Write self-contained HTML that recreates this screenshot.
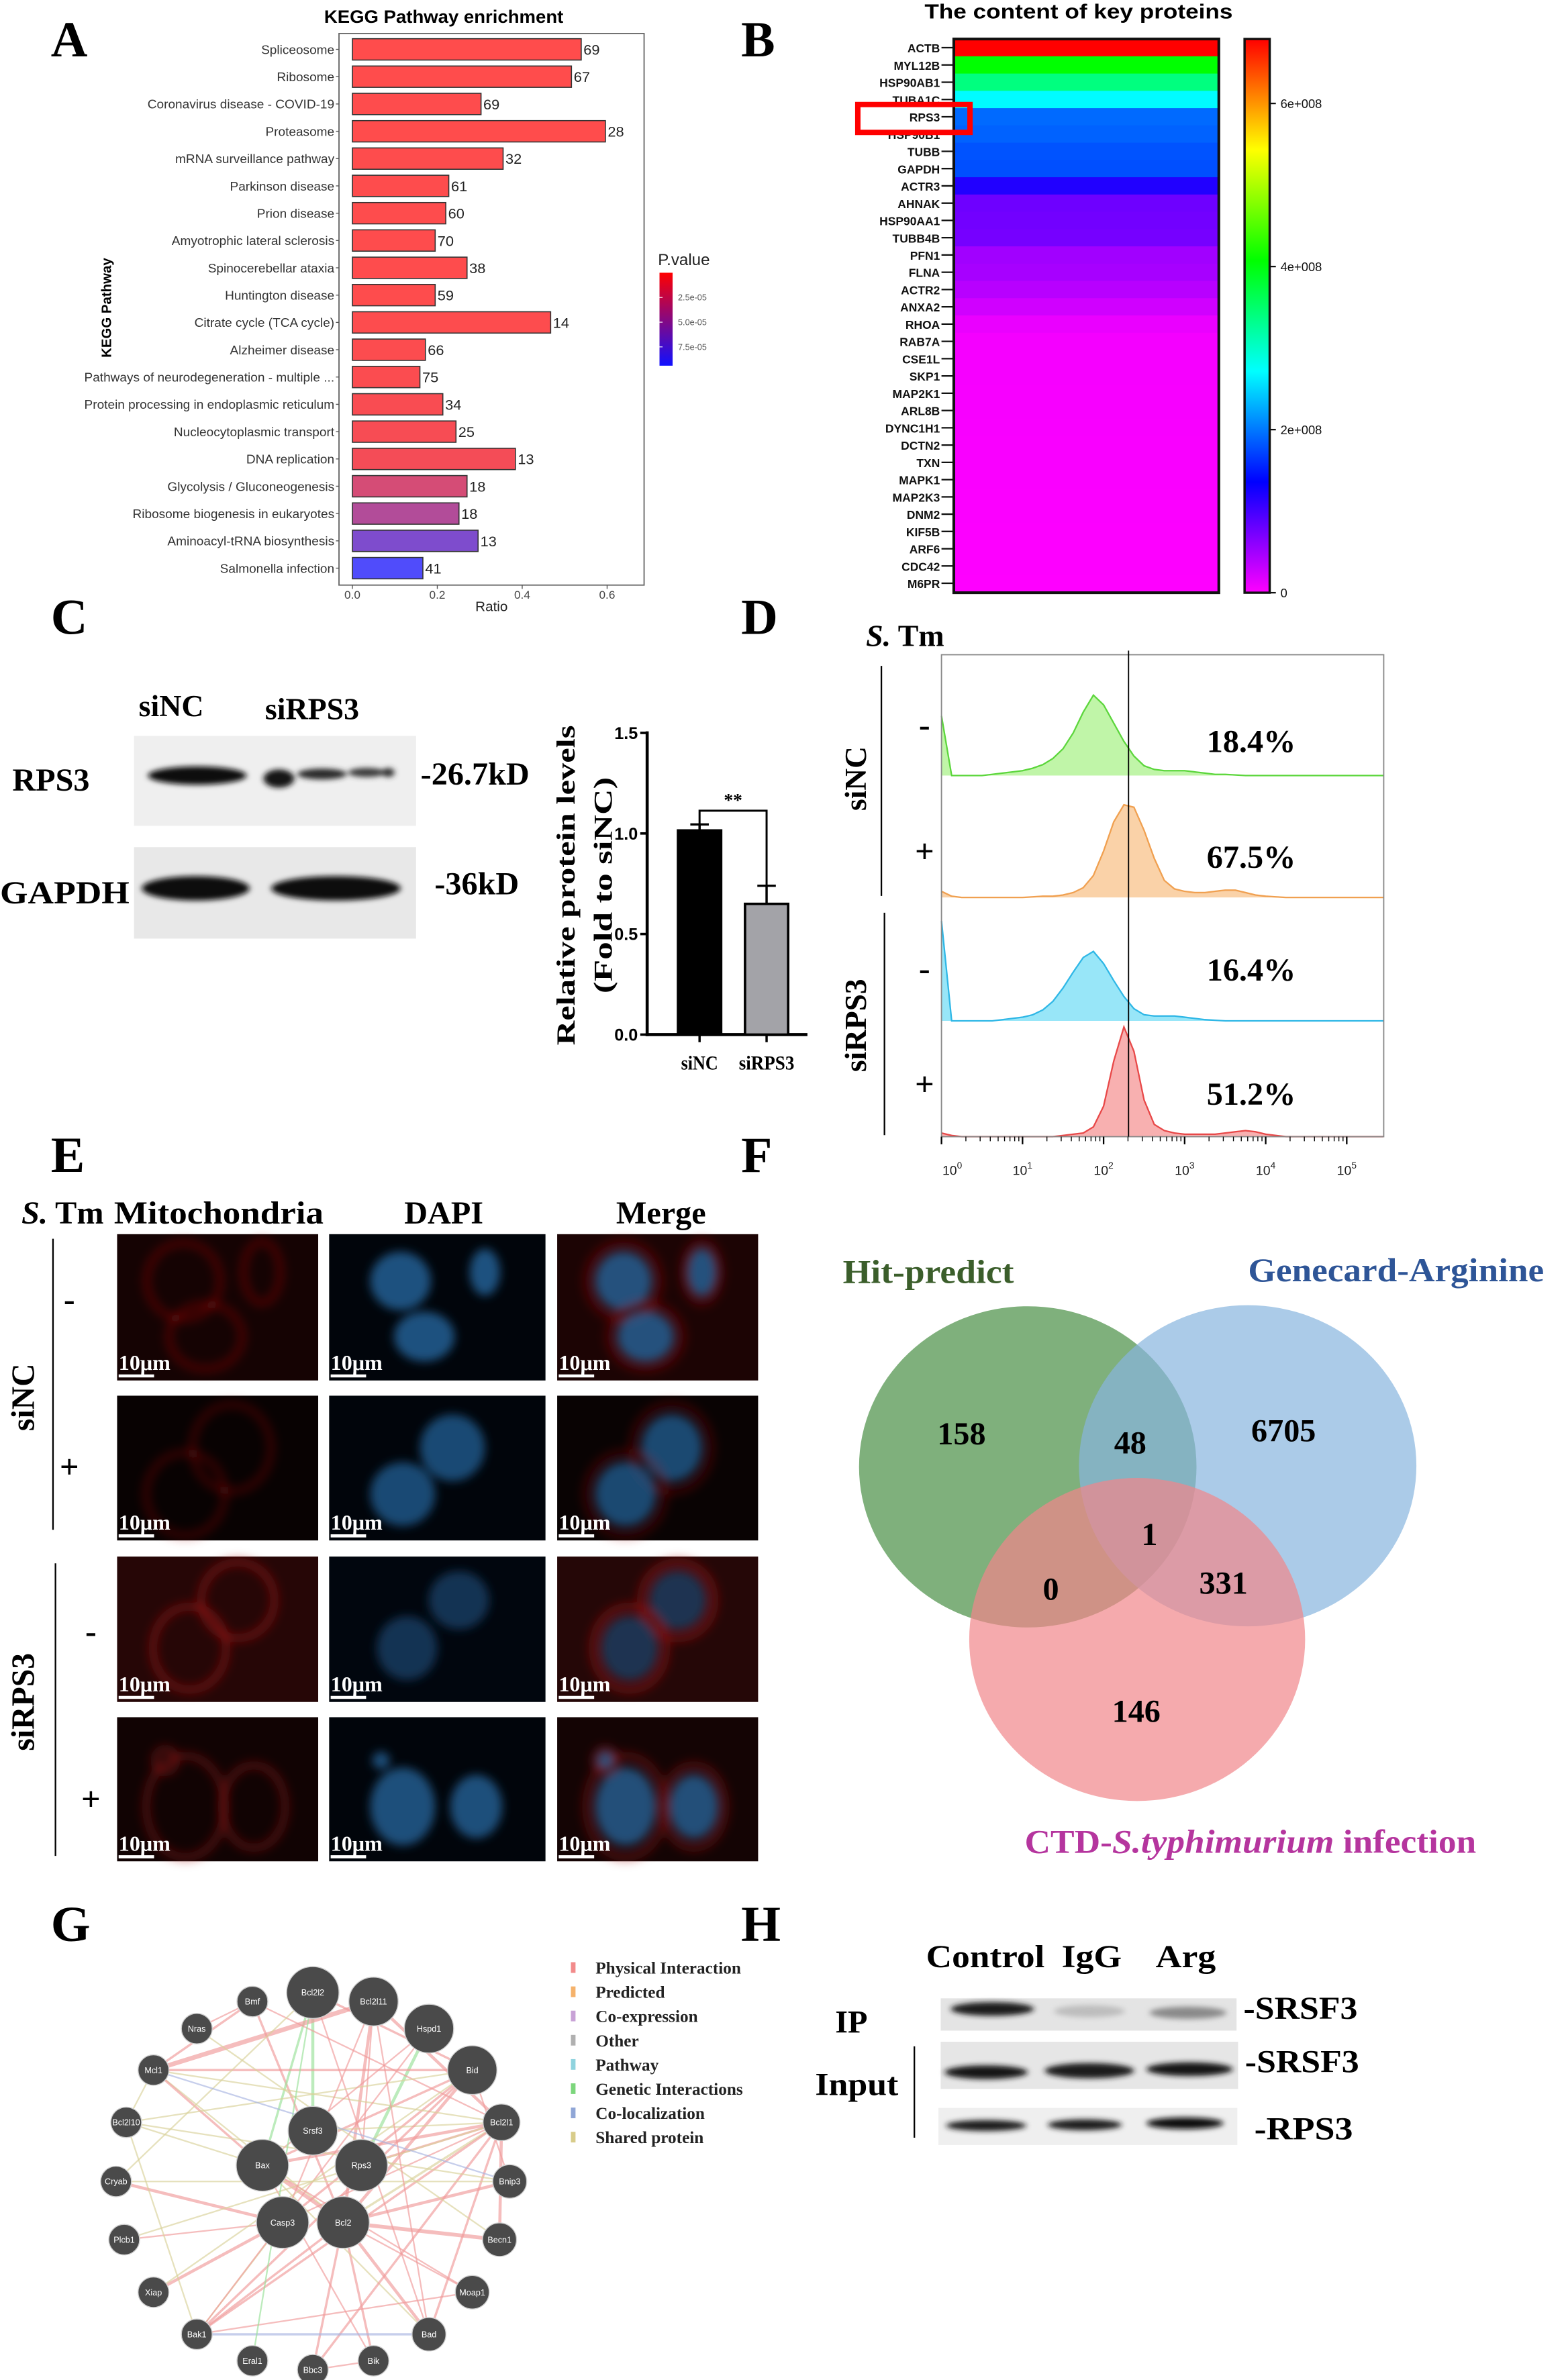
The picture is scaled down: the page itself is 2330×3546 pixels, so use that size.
<!DOCTYPE html>
<html><head><meta charset="utf-8">
<style>
html,body{margin:0;padding:0;background:#fff;}
svg{display:block}
.ser{font-family:"Liberation Serif",serif;font-weight:bold}
.sans{font-family:"Liberation Sans",sans-serif}
.nar{font-family:"Liberation Sans Narrow","Liberation Sans",sans-serif}
.plet{font-family:"Liberation Serif",serif;font-weight:bold;font-size:33px}
</style></head>
<body>
<svg id="fig" xmlns="http://www.w3.org/2000/svg" width="2330" height="3546" viewBox="0 0 1015 1562" preserveAspectRatio="none">
<defs>
<filter id="blur1" x="-50%" y="-50%" width="200%" height="200%"><feGaussianBlur stdDeviation="1.8"/></filter>
<filter id="blur2" x="-50%" y="-50%" width="200%" height="200%"><feGaussianBlur stdDeviation="3"/></filter>
<filter id="blur3" x="-50%" y="-50%" width="200%" height="200%"><feGaussianBlur stdDeviation="1"/></filter>
<linearGradient id="pgrad" x1="0" y1="0" x2="0" y2="1"><stop offset="0" stop-color="#ff0000"/><stop offset="1" stop-color="#1010ff"/></linearGradient>
<linearGradient id="hgrad" x1="0" y1="0" x2="0" y2="1">
<stop offset="0" stop-color="hsl(0,100%,50%)"/><stop offset="0.2" stop-color="hsl(60,100%,50%)"/><stop offset="0.4" stop-color="hsl(120,100%,50%)"/><stop offset="0.6" stop-color="hsl(180,100%,50%)"/><stop offset="0.8" stop-color="hsl(240,100%,50%)"/><stop offset="1" stop-color="hsl(300,100%,50%)"/></linearGradient>
</defs>
<rect x="0" y="0" width="1015" height="1562" fill="#fff"/>

<text class="plet" x="33" y="37">A</text>
<text class="plet" x="481" y="37">B</text>
<text class="plet" x="33" y="416">C</text>
<text class="plet" x="481" y="416">D</text>
<text class="plet" x="33" y="769">E</text>
<text class="plet" x="481" y="769">F</text>
<text class="plet" x="33" y="1274">G</text>
<text class="plet" x="481" y="1274">H</text>

<g id="gA">
<text class="nar" x="288" y="15" font-size="12" text-anchor="middle" font-weight="bold">KEGG Pathway enrichment</text>
<rect x="220" y="22" width="198" height="362" fill="none" stroke="#666" stroke-width="0.8"/>
<text class="sans" font-size="9" font-weight="bold" text-anchor="middle" transform="translate(72,202) rotate(-90)">KEGG Pathway</text>
<text class="nar" x="319" y="401" font-size="9" text-anchor="middle" fill="#222">Ratio</text>
<text class="nar" x="427" y="174" font-size="10.5" fill="#222">P.value</text>
<rect x="428" y="179" width="8.5" height="61" fill="url(#pgrad)"/>
</g>

<g id="gB">
<text class="sans" x="700" y="12" font-size="13.5" font-weight="bold" text-anchor="middle" textLength="200" lengthAdjust="spacingAndGlyphs">The content of key proteins</text>
<rect x="807.7" y="25.6" width="16.3" height="363.4" fill="url(#hgrad)" stroke="#111" stroke-width="1.5"/>
</g>

<g id="gC">
<text class="ser" x="90" y="470" font-size="20">siNC</text>
<text class="ser" x="172" y="472" font-size="20">siRPS3</text>
<text class="ser" x="8" y="519" font-size="21">RPS3</text>
<text class="ser" x="0" y="593" font-size="21" textLength="84" lengthAdjust="spacingAndGlyphs">GAPDH</text>
<text class="ser" x="273" y="515" font-size="21">-26.7kD</text>
<text class="ser" x="282" y="587" font-size="21">-36kD</text>
<rect x="87" y="483" width="183" height="59" fill="#efefef"/>
<rect x="87" y="556" width="183" height="60" fill="#e8e8e8"/>
<g filter="url(#blur1)">
<ellipse cx="128" cy="509" rx="32" ry="6" fill="#111"/>
<ellipse cx="181" cy="511" rx="10" ry="6" fill="#151515"/>
<ellipse cx="209" cy="508" rx="16" ry="3.6" fill="#2a2a2a"/>
<ellipse cx="238" cy="507" rx="12" ry="3" fill="#3a3a3a"/>
<ellipse cx="252" cy="507" rx="4" ry="3" fill="#333"/>
<ellipse cx="127" cy="583" rx="35" ry="8" fill="#111"/>
<ellipse cx="218" cy="583" rx="42" ry="8" fill="#111"/>
</g>
</g>
<g id="gCbar">
<text class="ser" font-size="17" text-anchor="middle" textLength="210" lengthAdjust="spacingAndGlyphs" transform="translate(373,581) rotate(-90)">Relative protein levels</text>
<text class="ser" font-size="17" text-anchor="middle" textLength="142" lengthAdjust="spacingAndGlyphs" transform="translate(397,581) rotate(-90)">(Fold to siNC)</text>
</g>

<g id="gD">
<text class="ser" x="562" y="424" font-size="20"><tspan font-style="italic">S.</tspan> Tm</text>
<text class="ser" font-size="20" text-anchor="middle" transform="translate(562,511) rotate(-90)">siNC</text>
<text class="ser" font-size="20" text-anchor="middle" transform="translate(562,673) rotate(-90)">siRPS3</text>
<line x1="572" y1="437" x2="572" y2="588" stroke="#000" stroke-width="1"/>
<line x1="574" y1="599" x2="574" y2="745" stroke="#000" stroke-width="1"/>
<text class="ser" x="600" y="483" font-size="22" text-anchor="middle">-</text>
<text class="ser" x="600" y="566" font-size="22" text-anchor="middle" font-weight="normal">+</text>
<text class="ser" x="600" y="643" font-size="22" text-anchor="middle">-</text>
<text class="ser" x="600" y="719" font-size="22" text-anchor="middle" font-weight="normal">+</text>
</g>

<g id="gE">
<text class="ser" x="14" y="803" font-size="21"><tspan font-style="italic">S.</tspan> Tm</text>
<text class="ser" x="74" y="803" font-size="21" textLength="136" lengthAdjust="spacingAndGlyphs">Mitochondria</text>
<text class="ser" x="288" y="803" font-size="21" text-anchor="middle">DAPI</text>
<text class="ser" x="429" y="803" font-size="21" text-anchor="middle">Merge</text>
<text class="ser" font-size="21" text-anchor="middle" transform="translate(22,917) rotate(-90)">siNC</text>
<text class="ser" font-size="21" text-anchor="middle" transform="translate(22,1117) rotate(-90)">siRPS3</text>
<line x1="34.4" y1="813" x2="34.4" y2="1004" stroke="#000" stroke-width="1"/>
<line x1="36" y1="1026" x2="36" y2="1218" stroke="#000" stroke-width="1"/>
<text class="ser" x="45" y="860" font-size="22" text-anchor="middle">-</text>
<text class="ser" x="45" y="970" font-size="22" text-anchor="middle" font-weight="normal">+</text>
<text class="ser" x="59" y="1078" font-size="22" text-anchor="middle">-</text>
<text class="ser" x="59" y="1188" font-size="22" text-anchor="middle" font-weight="normal">+</text>
</g>

<g id="gF">
<text class="ser" x="547" y="842" font-size="22" fill="#3b5e2b" textLength="111" lengthAdjust="spacingAndGlyphs">Hit-predict</text>
<text class="ser" x="810" y="841" font-size="22" fill="#2e5597" textLength="192" lengthAdjust="spacingAndGlyphs">Genecard-Arginine</text>
<text class="ser" x="665" y="1216" font-size="22" fill="#b5359e" textLength="293" lengthAdjust="spacingAndGlyphs">CTD-<tspan font-style="italic">S.typhimurium</tspan> infection</text>
</g>

<g id="gG"></g>

<g id="gH">
<text class="ser" x="601" y="1291" font-size="21" textLength="77" lengthAdjust="spacingAndGlyphs">Control</text>
<text class="ser" x="689" y="1291" font-size="21" textLength="39" lengthAdjust="spacingAndGlyphs">IgG</text>
<text class="ser" x="750" y="1291" font-size="21" textLength="39" lengthAdjust="spacingAndGlyphs">Arg</text>
<text class="ser" x="542" y="1334" font-size="21">IP</text>
<text class="ser" x="529" y="1375" font-size="21" textLength="54" lengthAdjust="spacingAndGlyphs">Input</text>
<line x1="593.4" y1="1343" x2="593.4" y2="1403" stroke="#000" stroke-width="1"/>
<rect x="610.5" y="1311.5" width="192" height="21.2" fill="#e4e4e4"/>
<rect x="610.5" y="1340" width="193" height="31" fill="#e6e6e6"/>
<rect x="609" y="1383.4" width="194" height="24.4" fill="#efefef"/>
<g filter="url(#blur1)">
<ellipse cx="644" cy="1318.5" rx="27" ry="4.5" fill="#1c1c1c"/>
<ellipse cx="707" cy="1320" rx="23" ry="4" fill="#bdbdbd"/>
<ellipse cx="771" cy="1321" rx="25" ry="4" fill="#8a8a8a"/>
<ellipse cx="640" cy="1360" rx="27" ry="4.5" fill="#151515"/>
<ellipse cx="707" cy="1359" rx="29" ry="5" fill="#1c1c1c"/>
<ellipse cx="772" cy="1358" rx="28" ry="4.5" fill="#151515"/>
<ellipse cx="640" cy="1395" rx="26" ry="3.6" fill="#1a1a1a"/>
<ellipse cx="704" cy="1394.5" rx="24" ry="3.6" fill="#1a1a1a"/>
<ellipse cx="769" cy="1393.5" rx="25" ry="3.8" fill="#111"/>
</g>
<text class="ser" x="807" y="1325" font-size="21" textLength="74" lengthAdjust="spacingAndGlyphs">-SRSF3</text>
<text class="ser" x="808" y="1360" font-size="21" textLength="74" lengthAdjust="spacingAndGlyphs">-SRSF3</text>
<text class="ser" x="814" y="1404" font-size="21" textLength="64" lengthAdjust="spacingAndGlyphs">-RPS3</text>
</g>

<script>
const keggPathways=["Spliceosome","Ribosome","Coronavirus disease - COVID-19","Proteasome","mRNA surveillance pathway","Parkinson disease","Prion disease","Amyotrophic lateral sclerosis","Spinocerebellar ataxia","Huntington disease","Citrate cycle (TCA cycle)","Alzheimer disease","Pathways of neurodegeneration - multiple ...","Protein processing in endoplasmic reticulum","Nucleocytoplasmic transport","DNA replication","Glycolysis / Gluconeogenesis","Ribosome biogenesis in eukaryotes","Aminoacyl-tRNA biosynthesis","Salmonella infection"];
const keggRatio=[0.539,0.516,0.303,0.596,0.355,0.227,0.220,0.195,0.270,0.195,0.467,0.172,0.159,0.213,0.244,0.384,0.270,0.251,0.296,0.166];
const keggCount=[69,67,69,28,32,61,60,70,38,59,14,66,75,34,25,13,18,18,13,41];
const keggPvalue=[1e-7,1e-7,2e-7,1e-7,3e-7,4e-7,5e-7,6e-7,8e-7,9e-7,1e-6,1.5e-6,2e-6,3e-6,4e-6,6e-6,2.2e-5,4.0e-5,6.8e-5,9.2e-5];
const keggRatioTicks=[0,0.2,0.4,0.6];
const keggPTicks=[2.5e-5,5.0e-5,7.5e-5];
const keggPTickLabels=["2.5e-05","5.0e-05","7.5e-05"];
const heatProteins=["ACTB","MYL12B","HSP90AB1","TUBA1C","RPS3","HSP90B1","TUBB","GAPDH","ACTR3","AHNAK","HSP90AA1","TUBB4B","PFN1","FLNA","ACTR2","ANXA2","RHOA","RAB7A","CSE1L","SKP1","MAP2K1","ARL8B","DYNC1H1","DCTN2","TXN","MAPK1","MAP2K3","DNM2","KIF5B","ARF6","CDC42","M6PR"];
const heatValues=[6.79e8,4.07e8,3.4e8,2.7e8,1.92e8,1.88e8,1.8e8,1.78e8,1.18e8,0.77e8,0.75e8,0.73e8,0.5e8,0.47e8,0.38e8,0.25e8,0.11e8,0.06e8,0.05e8,0.05e8,0.04e8,0.04e8,0.035e8,0.03e8,0.03e8,0.025e8,0.02e8,0.02e8,0.015e8,0.01e8,0.01e8,0.005e8];
const heatTicks=[0,2e8,4e8,6e8];
const heatTickLabels=["0","2e+008","4e+008","6e+008"];
const barGroups=["siNC","siRPS3"];
const barMeans=[1.015,0.65];
const barErrors=[0.03,0.09];
const barTicks=[0,0.5,1.0,1.5];
const barTickLabels=["0.0","0.5","1.0","1.5"];
const flowDecades=[0,1,2,3,4,5];
const flowPercents=["18.4%","67.5%","16.4%","51.2%"];
const flowGreen=[49,0,0,0,0,1,2,3,4,6,9,14,22,35,52,66,58,43,28,16,8,5,4,4,4,3,2,1,1,0.5,0,0,0,0,0,0,0,0,0,0,0];
const flowOrange=[5,1,0,0,0,0,0,0,0,0.5,1,1,2,4,8,18,38,62,76,74,55,32,14,7,5,4,4,5,6,6,4,2,1,0.5,0,0,0,0,0,0,0];
const flowBlue=[82,0,0,0,0,0,1,2,3,5,9,16,27,40,52,57,47,33,20,10,5,4,4,4,3,2,1,0.5,0,0,0,0,0,0,0,0,0,0,0,0,0];
const flowRed=[3,1,0,0,0,0,0,0,0,0,0,0,1,2,3,8,25,62,90,70,30,10,5,3,2,2,2,2,3,4,5,4,2,1,0,0,0,0,0,0,0];
const vennRegions=["hit-only","hit-gene","gene-only","all-three","hit-ctd","gene-ctd","ctd-only"];
const vennCounts=[158,48,6705,1,0,331,146];

const NS="http://www.w3.org/2000/svg";
function mk(tag,attrs,parent){const e=document.createElementNS(NS,tag);for(const k in attrs)e.setAttribute(k,attrs[k]);parent.appendChild(e);return e;}
const gA=document.getElementById("gA"),gB=document.getElementById("gB"),gCbar=document.getElementById("gCbar"),gD=document.getElementById("gD"),gE=document.getElementById("gE"),gF=document.getElementById("gF"),gG=document.getElementById("gG");

const xA=v=>228.7+v*275.5;
const yA=i=>32.4+i*17.92;
const pMax=9.4e-5;
function pColor(p){const t=Math.max(0,Math.min(1,p/pMax));return "rgb("+Math.round(255*(1-t))+",0,"+Math.round(255*t)+")";}
keggPathways.forEach((name,i)=>{
  const y=yA(i);
  let el=mk("rect",{x:xA(0),y:y-7,width:xA(keggRatio[i])-xA(0),height:14,fill:pColor(keggPvalue[i]),"fill-opacity":0.7,stroke:"#333","stroke-width":0.7},gA);
  
  
  el=mk("text",{x:217,y:y+3,"font-size":8.3,"text-anchor":"end",fill:"#333",class:"nar"},gA);
  el.textContent=name;
  
  
  el=mk("line",{x1:218,x2:220,y1:y,y2:y,stroke:"#555","stroke-width":0.6},gA);
  
  
  el=mk("text",{x:xA(keggRatio[i])+1.5,y:y+3.5,"font-size":9.5,fill:"#222",class:"nar"},gA);
  el.textContent=keggCount[i];
  
  
});
keggRatioTicks.forEach(v=>{
  let el=mk("line",{x1:xA(v),x2:xA(v),y1:384,y2:386.5,stroke:"#555","stroke-width":0.6},gA);
  
  
  el=mk("text",{x:xA(v),y:393,"font-size":7.5,"text-anchor":"middle",fill:"#444",class:"nar"},gA);
  el.textContent=v.toFixed(1);
  
  
});
keggPTicks.forEach((p,i)=>{
  const y=179+p/pMax*61;
  let el=mk("text",{x:440,y:y+2,"font-size":5.5,fill:"#555",class:"nar"},gA);
  el.textContent=keggPTickLabels[i];
  
  
  el=mk("line",{x1:428,x2:430,y1:y,y2:y,stroke:"#fff","stroke-width":0.5},gA);
  
  
});

const hMax=6.79e8;
const yB=i=>25.6+i*11.34;
const hColor=v=>"hsl("+(300*(1-Math.max(0,Math.min(1,v/hMax))))+",100%,50%)";
heatProteins.forEach((p,i)=>{
  let el=mk("rect",{x:619,y:yB(i),width:172,height:11.6,fill:hColor(heatValues[i])},gB);
  
  
  el=mk("text",{x:610,y:yB(i)+8.8,"font-size":7.6,"font-weight":"bold","text-anchor":"end",fill:"#111",class:"sans"},gB);
  el.textContent=p;
  
  
  el=mk("line",{x1:611,x2:619,y1:yB(i)+5.67,y2:yB(i)+5.67,stroke:"#111","stroke-width":1},gB);
  
  
});
{let el=mk("rect",{x:619,y:25.6,width:172,height:363.4,fill:"none",stroke:"#111","stroke-width":1.8},gB);


el=mk("rect",{x:556.7,y:68.6,width:72.8,height:18.3,fill:"none",stroke:"#ff0000","stroke-width":3.5},gB);

}
heatTicks.forEach((v,i)=>{
  const y=389-v/hMax*363.4;
  let el=mk("line",{x1:824,x2:828,y1:y,y2:y,stroke:"#111","stroke-width":1},gB);
  
  
  el=mk("text",{x:831,y:y+3,"font-size":8,fill:"#111",class:"sans"},gB);
  el.textContent=heatTickLabels[i];
  
  
});

const yC=v=>679-v*132;
const barX=[454,497.5];
{let el=mk("line",{x1:420,x2:420,y1:480,y2:680,stroke:"#000","stroke-width":2},gCbar);


el=mk("line",{x1:419,x2:524,y1:679,y2:679,stroke:"#000","stroke-width":2},gCbar);

}
barTicks.forEach((v,i)=>{
  let el=mk("line",{x1:415.5,x2:420,y1:yC(v),y2:yC(v),stroke:"#000","stroke-width":1.6},gCbar);
  
  
  el=mk("text",{x:414,y:yC(v)+4,"font-size":11,"font-weight":"bold","text-anchor":"end",class:"nar"},gCbar);
  el.textContent=barTickLabels[i];
  
  
});
barGroups.forEach((g,i)=>{
  const cx=barX[i];
  let el=mk("line",{x1:cx,x2:cx,y1:yC(barMeans[i]),y2:yC(barMeans[i]+barErrors[i]),stroke:"#000","stroke-width":1.5},gCbar);
  
  
  el=mk("line",{x1:cx-6,x2:cx+6,y1:yC(barMeans[i]+barErrors[i]),y2:yC(barMeans[i]+barErrors[i]),stroke:"#000","stroke-width":1.5},gCbar);
  
  
  el=mk("rect",{x:cx-14,y:yC(barMeans[i]),width:28,height:yC(0)-yC(barMeans[i]),fill:i==0?"#000":"#a3a3a8",stroke:"#000","stroke-width":1.6},gCbar);
  
  
  el=mk("line",{x1:cx,x2:cx,y1:679,y2:684,stroke:"#000","stroke-width":1.5},gCbar);
  
  
  el=mk("text",{x:cx,y:702,"font-size":13,"text-anchor":"middle",class:"ser",textLength:i==0?24:36,lengthAdjust:"spacingAndGlyphs"},gCbar);
  el.textContent=g;
  
  
});
{const bTop=yC(barMeans[0]+barErrors[0])-8, bR=yC(barMeans[1]+barErrors[1]);
let el=mk("path",{d:"M"+barX[0]+" "+(bTop+15)+" V"+(bTop-1)+" H"+barX[1]+" V"+bR,fill:"none",stroke:"#000","stroke-width":1.3},gCbar);


el=mk("text",{x:(barX[0]+barX[1])/2,y:bTop-4,"font-size":12,"text-anchor":"middle",class:"ser"},gCbar);
el.textContent="**";

}

const xD=l=>611+l*52.6;
const rowBase=[509,589,670,746];
const flowSeries=[flowGreen,flowOrange,flowBlue,flowRed];
const flowStroke=["#5cd63c","#f0a050","#2fb7e6","#e84848"];
const flowFill=["#c0f5a8","#fad2a8","#98e6f8","#f8b0b0"];
const flowNames=["sinc-uninfected","sinc-infected","sirps3-uninfected","sirps3-infected"];
flowSeries.forEach((h,r)=>{
  const b=rowBase[r];
  let pts=h.map((v,i)=>xD(i*0.125).toFixed(1)+" "+(b-v*0.8).toFixed(1));
  let el=mk("path",{d:"M"+xD(0)+" "+b+" L"+pts.join(" L")+" L"+xD(5.45)+" "+b+" Z",fill:flowFill[r],stroke:"none"},gD);
  
  
  el=mk("path",{d:"M"+pts.join(" L")+" L"+xD(5.45)+" "+b,fill:"none",stroke:flowStroke[r],"stroke-width":1},gD);
  
  
  el=mk("text",{x:812,y:[493.6,569.6,643.6,725][r],"font-size":21,"text-anchor":"middle",class:"ser"},gD);
  el.textContent=flowPercents[r];
  
  
});
{let el=mk("rect",{x:611,y:429.7,width:287,height:316.3,fill:"none",stroke:"#888","stroke-width":0.8},gD);


el=mk("line",{x1:732.4,x2:732.4,y1:427,y2:746,stroke:"#000","stroke-width":0.8},gD);

}
flowDecades.forEach(d=>{
  let el=mk("line",{x1:xD(d),x2:xD(d),y1:746,y2:751,stroke:"#000","stroke-width":1},gD);
  
  
  if(d<5){for(let m=2;m<10;m++){const x=xD(d+Math.log10(m));
    el=mk("line",{x1:x,x2:x,y1:746,y2:749,stroke:"#000","stroke-width":0.6},gD);
    
    }}
  el=mk("text",{x:xD(d)+(d==0?7:0),y:771,"font-size":8.5,"text-anchor":"middle",class:"sans",fill:"#222"},gD);
  el.textContent="10";
  const sp=mk("tspan",{dy:-4,"font-size":6},el);
  sp.textContent=d;
  
  
});

const tileCols=[76,213.6,361.6], tileW=[130.5,140.4,130.4];
const tileRows=[810,916,1021.6,1127], tileH=[96,95,95.4,94.6];
const mitoBg=["#150303","#080202","#260606","#110303"];
const dapiBg=["#01050b","#01050b","#01060e","#01050b"];
const mergeBg=["#1c0404","#090303","#250707","#140404"];
const nuclei=[[[0.33,0.32,0.14,0.2],[0.72,0.26,0.07,0.16],[0.44,0.7,0.14,0.17]],[[0.57,0.36,0.15,0.23],[0.34,0.68,0.15,0.22]],[[0.6,0.3,0.14,0.2],[0.36,0.63,0.14,0.22]],[[0.34,0.62,0.15,0.27],[0.68,0.62,0.12,0.22],[0.24,0.3,0.04,0.06]]];
const nucColor=["#2a72b0","#2466a0","#174670","#2a6eaa"];
const mitoOp=[0.3,0.25,0.45,0.35];
tileRows.forEach((ty,r)=>{
  tileCols.forEach((tx,c)=>{
    const w=tileW[c],h=tileH[r];
    let el=mk("rect",{x:tx,y:ty,width:w,height:h,fill:[mitoBg,dapiBg,mergeBg][c][r]},gE);
    
    
    const g=mk("g",{filter:"url(#blur2)"},gE);
    
    
    nuclei[r].forEach(n=>{
      if(c!=1){el=mk("ellipse",{cx:tx+n[0]*w,cy:ty+n[1]*h,rx:n[2]*w*1.3,ry:n[3]*h*1.3,fill:"none",stroke:"#a01010","stroke-width":6,"stroke-opacity":mitoOp[r]},g);
        
        }
      if(c!=0){el=mk("ellipse",{cx:tx+n[0]*w,cy:ty+n[1]*h,rx:n[2]*w,ry:n[3]*h,fill:nucColor[r],"fill-opacity":0.7},g);
        
        }
    });
    el=mk("text",{x:tx+1,y:ty+h-7,"font-size":14,fill:"#fff",class:"ser"},gE);
    el.textContent="10μm";
    
    
    el=mk("line",{x1:tx+1,x2:tx+24,y1:ty+h-3,y2:ty+h-3,stroke:"#fff","stroke-width":2},gE);
    
    
  });
});

const vennCircles=[[667,962.7,109.5,105.4,"rgb(72,142,69)","hit-predict-set"],[809.7,962,109.5,105.4,"rgb(135,181,222)","genecard-set"],[738,1076,109,106,"rgb(241,134,138)","ctd-set"]];
vennCircles.forEach(cc=>{
  let el=mk("ellipse",{cx:cc[0],cy:cc[1],rx:cc[2],ry:cc[3],fill:cc[4],"fill-opacity":0.7},gF);
  
  
});
const vennPos=[[624,948],[733.5,954],[833,946],[746,1014],[682,1050],[794,1046],[737.4,1130]];
vennCounts.forEach((v,i)=>{
  let el=mk("text",{x:vennPos[i][0],y:vennPos[i][1],"font-size":21,"text-anchor":"middle",class:"ser",fill:"#000"},gF);
  el.textContent=v;
  
  
});

const netNodes={Bcl2l2:[203,1307.7,17],Bcl2l11:[242.4,1313.6,16],Bmf:[163.8,1313.6,10],Hspd1:[278.4,1331.4,16],Nras:[127.7,1331.4,10],Mcl1:[99.6,1358.6,10],Bid:[306.5,1358.6,16],Bcl2l10:[81.9,1392.9,10],Bcl2l1:[325.5,1392.9,12],Srsf3:[203,1398.4,16],Bax:[170.3,1421.1,17],Rps3:[234.5,1421.1,17],Cryab:[75.3,1431.7,10],Bnip3:[330.8,1431.7,11],Casp3:[183.4,1458.6,17],Bcl2:[222.7,1458.6,17],Plcb1:[80.6,1469.9,10],Becn1:[324.2,1469.9,11],Xiap:[99.6,1504.4,10],Moap1:[306.5,1504.4,11],Bak1:[127.7,1532,10],Bad:[278.4,1532,11],Eral1:[163.8,1549.4,10],Bik:[242.4,1549.4,10],Bbc3:[203,1555.3,10]};
const netEdges=[["Bcl2","Bax",2.5,"p"],["Bcl2","Bid",2,"p"],["Bcl2","Bcl2l11",2,"p"],["Bcl2","Bad",2,"p"],["Bcl2","Bik",1.5,"p"],["Bcl2","Bbc3",1.5,"p"],["Bcl2","Becn1",2.5,"p"],["Bcl2","Bnip3",2,"p"],["Bcl2","Bak1",1.5,"p"],["Bcl2","Bmf",1.5,"p"],["Bcl2","Moap1",1,"p"],["Bcl2","Mcl1",1,"s"],["Bcl2","Bcl2l1",1.5,"s"],["Casp3","Xiap",2,"p"],["Casp3","Bid",1.5,"p"],["Casp3","Cryab",2,"p"],["Casp3","Bcl2l1",1,"p"],["Casp3","Plcb1",1,"p"],["Casp3","Bak1",1,"s"],["Bax","Bcl2l1",2,"p"],["Bax","Bid",1.5,"p"],["Bax","Mcl1",1.5,"p"],["Bax","Bcl2l2",1.5,"g"],["Bax","Bik",1,"p"],["Bax","Bad",1,"s"],["Bax","Bcl2l10",1,"s"],["Rps3","Hspd1",2,"g"],["Rps3","Bcl2l1",1.5,"p"],["Rps3","Bcl2l11",1,"p"],["Srsf3","Bcl2l2",2,"g"],["Srsf3","Bcl2l1",1,"s"],["Mcl1","Bcl2l11",3,"p"],["Mcl1","Bid",1.5,"p"],["Mcl1","Bmf",1.5,"p"],["Mcl1","Bcl2l1",1,"s"],["Mcl1","Bcl2l10",1,"s"],["Bcl2l1","Bcl2l11",2,"p"],["Bcl2l1","Bad",1.5,"p"],["Bcl2l1","Bbc3",1.5,"p"],["Bcl2l1","Bak1",1.5,"p"],["Bcl2l1","Becn1",2,"p"],["Bcl2l1","Bmf",1,"p"],["Bcl2l2","Bid",1.5,"p"],["Bcl2l2","Bad",1,"p"],["Bcl2l2","Cryab",1,"s"],["Bid","Bak1",1.5,"p"],["Bid","Bnip3",1,"p"],["Bid","Bcl2l10",1,"s"],["Hspd1","Bak1",1,"p"],["Hspd1","Bax",1,"p"],["Bak1","Bad",1.5,"c"],["Bak1","Moap1",1,"p"],["Bak1","Bcl2l10",1,"s"],["Bnip3","Bcl2l10",1,"s"],["Xiap","Bid",1,"s"],["Cryab","Bnip3",1,"s"],["Plcb1","Bcl2l1",1,"s"],["Nras","Bmf",1,"p"],["Nras","Becn1",1,"s"],["Eral1","Bcl2l2",1,"g"],["Bbc3","Bik",1,"p"],["Moap1","Bax",1,"p"],["Mcl1","Bnip3",1,"c"],["Bcl2l11","Bad",1,"p"],["Casp3","Bcl2l11",1,"p"]];
const edgeColor={p:"#f09a9a",s:"#d9d19a",g:"#98e098",c:"#a8b4e0"};
netEdges.forEach(e=>{
  const a=netNodes[e[0]],b=netNodes[e[1]];
  let el=mk("line",{x1:a[0],y1:a[1],x2:b[0],y2:b[1],stroke:edgeColor[e[3]],"stroke-width":e[2],"stroke-opacity":0.65},gG);
  
  
});
Object.keys(netNodes).forEach(k=>{
  const n=netNodes[k];
  let el=mk("circle",{cx:n[0],cy:n[1],r:n[2],fill:"#4a4a4a",stroke:"#cfcfcf","stroke-width":0.6},gG);
  
  
  el=mk("text",{x:n[0],y:n[1]+2,"font-size":5.5,"text-anchor":"middle",fill:"#fff",class:"sans"},gG);
  el.textContent=k;
  
  
});
const legendNames=["Physical Interaction","Predicted","Co-expression","Other","Pathway","Genetic Interactions","Co-localization","Shared protein"];
const legendColors=["#f28b8b","#f5b26b","#c8a2d6","#b0b0b0","#8fd3de","#7cd67c","#90a6d6","#d8cc8a"];
legendNames.forEach((nm,i)=>{
  const y=1291.8+i*15.9;
  let el=mk("rect",{x:370.5,y:y-4,width:3,height:7,fill:legendColors[i]},gG);
  
  
  el=mk("text",{x:386.5,y:y+3.5,"font-size":11,class:"ser",fill:"#222"},gG);
  el.textContent=nm;
  
  
});
</script>
</svg>
</body></html>
